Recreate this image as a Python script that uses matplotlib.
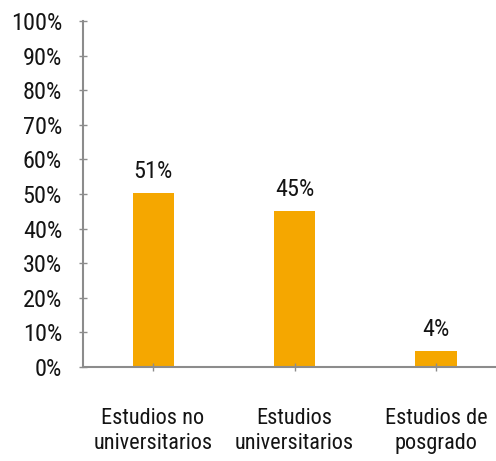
import matplotlib
matplotlib.use("Agg")
import matplotlib.pyplot as plt

categories = ["Estudios no\nuniversitarios", "Estudios\nuniversitarios", "Estudios de\nposgrado"]
values = [50.4, 45.1, 4.5]
value_labels = ["51%", "45%", "4%"]
y_ticks = [0, 10, 20, 30, 40, 50, 60, 70, 80, 90, 100]

BAR_COLOR = "#F5A700"
AXIS_COLOR = "#8C8C8C"
TEXT_COLOR = "#141414"

plt.rcParams["font.family"] = ["Liberation Sans Narrow", "Roboto Condensed",
                               "DejaVu Sans"]
plt.rcParams["font.stretch"] = "condensed"

fig = plt.figure(figsize=(4.96, 4.61), dpi=100)
ax = fig.add_axes([0.1673, 0.2046, 0.8327, 0.7492])

x = list(range(len(categories)))
bars = ax.bar(x, values, width=0.29, color=BAR_COLOR)

# value labels above each bar
for xi, v, lab in zip(x, values, value_labels):
    ax.annotate(lab, (xi, v), xytext=(0, 7), textcoords="offset points",
                ha="center", va="bottom", fontsize=17.5, color=TEXT_COLOR)

ax.set_xlim(-0.495, 2.424)
ax.set_ylim(0, 100)
ax.set_yticks(y_ticks)
ax.set_yticklabels([f"{t}%" for t in y_ticks])
ax.set_xticks(x)
ax.set_xticklabels(categories)

for side in ["top", "right"]:
    ax.spines[side].set_visible(False)
for side in ["left", "bottom"]:
    ax.spines[side].set_color(AXIS_COLOR)
    ax.spines[side].set_linewidth(1.5)

ax.tick_params(axis="y", direction="inout", length=6, width=1, color=AXIS_COLOR,
               labelsize=17.5, labelcolor=TEXT_COLOR, pad=12)
ax.tick_params(axis="x", direction="inout", length=6, width=1, color=AXIS_COLOR,
               labelsize=16, labelcolor=TEXT_COLOR, pad=27)
for lab in ax.get_xticklabels():
    lab.set_linespacing(1.2)

fig.savefig("out.png", dpi=100)
